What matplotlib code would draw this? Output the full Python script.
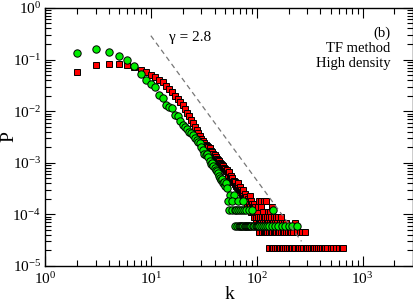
import matplotlib
matplotlib.use("Agg")
import matplotlib.pyplot as plt
from matplotlib.ticker import LogLocator, NullFormatter

plt.rcParams['font.family'] = ['Liberation Serif', 'DejaVu Serif']
plt.rcParams['mathtext.fontset'] = 'custom'
plt.rcParams['mathtext.rm'] = 'Liberation Serif'
plt.rcParams['mathtext.it'] = 'Liberation Serif:italic'

# red squares (k, P)
red_k = [2, 3, 4, 5, 6, 7, 8, 9, 10, 11, 12, 13, 14, 15, 16, 17, 18, 19, 20,
         21, 22, 23, 24, 25, 26, 27, 28, 29, 30, 31, 32, 33, 34, 35, 36, 37, 38,
         39, 40, 41, 42, 43, 44, 45, 46, 47, 48, 49, 50,
         51, 52, 53, 54, 55, 56, 57, 58, 59, 60, 61, 62, 63, 64, 65, 66, 67, 68,
         69, 70, 71, 72, 73, 74, 75, 76, 77, 78, 79, 80, 81, 82, 83, 84, 85, 86,
         87, 88, 89, 90, 91, 92, 93, 94, 95, 96, 97, 98, 99, 100,
         105, 110, 118, 123,
         102, 109, 114, 127, 134, 140,
         103, 108, 112, 117, 121, 126, 131, 137, 145, 152, 160, 168,
         104, 107, 111, 115, 119, 124, 128, 133, 139, 144, 150, 157, 165, 172, 180, 188, 228,
         106, 113, 116, 120, 122, 125, 130, 136, 141, 146, 149, 153, 158, 162, 170,
         176, 183, 191, 198, 205, 213, 222, 240, 255, 270, 284,
         132, 138, 143, 148, 155, 163, 167, 174, 178, 185, 193, 200, 210, 215,
         225, 232, 245, 252, 262, 275, 290, 300, 312, 325, 340, 350, 365, 380,
         395, 410, 430, 445, 460, 500, 530, 560, 600, 640, 660]
red_p = [0.058, 0.080, 0.083, 0.081, 0.078, 0.072, 0.063, 0.057, 0.050, 0.045,
         0.041, 0.036, 0.031, 0.027, 0.024, 0.020, 0.017, 0.015, 0.013,
         0.011, 0.0094, 0.0080, 0.0068, 0.0058, 0.0050, 0.0043, 0.0038, 0.0033,
         0.0029, 0.0026, 0.0024, 0.0022, 0.0021, 0.0020, 0.0019, 0.0017, 0.0016,
         0.0015, 0.0014, 0.0013, 0.0012, 0.00115, 0.0011, 0.00100, 0.00095,
         0.00090, 0.00085, 0.00080, 0.00075,
         0.00068, 0.00072, 0.00062, 0.00058, 0.00065, 0.00052, 0.00055, 0.00047,
         0.00050, 0.00042, 0.00045, 0.00038, 0.00043, 0.00036, 0.00034, 0.00040,
         0.00032, 0.00029, 0.00034, 0.00027, 0.00030, 0.00025, 0.00027, 0.00023,
         0.00029, 0.00021, 0.00025, 0.00020, 0.00018, 0.00022, 0.00016, 0.00020,
         0.00018, 0.00014, 0.00016, 0.00023, 0.00014, 0.00018, 0.00011, 0.00016,
         0.00014, 0.000113, 0.000136, 0.0000906, 0.000158, 0.000113, 0.000136,
         0.0000906, 0.000068, 0.000113,
         1.81e-4, 1.81e-4, 1.81e-4, 1.81e-4,
         1.36e-4, 1.36e-4, 1.13e-4, 1.13e-4, 1.13e-4, 1.36e-4,
         9.06e-5, 9.06e-5, 9.06e-5, 9.06e-5, 9.06e-5, 9.06e-5, 9.06e-5, 9.06e-5,
         9.06e-5, 9.06e-5, 9.06e-5, 9.06e-5,
         6.8e-5, 6.8e-5, 6.8e-5, 6.8e-5, 6.8e-5, 6.8e-5, 6.8e-5, 6.8e-5, 6.8e-5,
         6.8e-5, 6.8e-5, 6.8e-5, 6.8e-5, 6.8e-5, 6.8e-5, 6.8e-5, 6.8e-5,
         4.53e-5, 4.53e-5, 4.53e-5, 4.53e-5, 4.53e-5, 4.53e-5, 4.53e-5, 4.53e-5,
         4.53e-5, 4.53e-5, 4.53e-5, 4.53e-5, 4.53e-5, 4.53e-5, 4.53e-5, 4.53e-5,
         4.53e-5, 4.53e-5, 4.53e-5, 4.53e-5, 4.53e-5, 4.53e-5, 4.53e-5, 4.53e-5,
         4.53e-5, 4.53e-5,
         2.26e-5, 2.26e-5, 2.26e-5, 2.26e-5, 2.26e-5, 2.26e-5, 2.26e-5, 2.26e-5,
         2.26e-5, 2.26e-5, 2.26e-5, 2.26e-5, 2.26e-5, 2.26e-5, 2.26e-5, 2.26e-5,
         2.26e-5, 2.26e-5, 2.26e-5, 2.26e-5, 2.26e-5, 2.26e-5, 2.26e-5, 2.26e-5,
         2.26e-5, 2.26e-5, 2.26e-5, 2.26e-5, 2.26e-5, 2.26e-5, 2.26e-5, 2.26e-5,
         2.26e-5, 2.26e-5, 2.26e-5, 2.26e-5, 2.26e-5, 2.26e-5, 2.26e-5]

# green circles (k, P)
green_k = [2, 3, 4, 5, 6, 7, 8, 9, 10, 11,
           12, 13, 14, 15, 16, 17, 18, 19, 20, 21,
           22, 23, 24, 25, 26, 27, 28, 29, 30, 31,
           32, 33, 34, 35, 36, 37, 38, 39, 40, 41,
           42, 43, 44, 45, 46, 47, 48, 49, 50, 51,
           52,
           56, 61, 53, 59, 66, 75,
           55, 58, 62, 64, 67, 70, 72, 76, 80, 85, 90, 142,
           63, 65, 68, 69, 71, 73, 74, 77, 78, 79, 81, 83, 84, 87, 88, 92, 95,
           98, 100, 103, 106, 110, 114, 120, 126, 131, 138, 150, 160, 175, 185,
           200, 215, 240]
green_p = [0.134, 0.16, 0.14, 0.117, 0.096, 0.075, 0.052, 0.041, 0.034, 0.029,
           0.021, 0.0178, 0.0132, 0.0122, 0.0115, 0.0083, 0.0079, 0.0063, 0.0055, 0.0050,
           0.0046, 0.0040, 0.0038, 0.0034, 0.0030, 0.0027, 0.0025, 0.0024, 0.0020, 0.0018,
           0.0015, 0.0014, 0.0015, 0.0013, 0.0011, 0.00095, 0.0010, 0.00085, 0.00080, 0.00072,
           0.00068, 0.00063, 0.00055, 0.00050, 0.00046, 0.00048, 0.00040, 0.00042, 0.00036, 0.00040,
           0.00033,
           2.38e-4, 2.38e-4, 1.79e-4, 1.79e-4, 1.79e-4, 1.79e-4,
           1.19e-4, 1.19e-4, 1.19e-4, 1.19e-4, 1.19e-4, 1.19e-4, 1.19e-4,
           1.19e-4, 1.19e-4, 1.19e-4, 1.19e-4, 1.19e-4,
           5.96e-5, 5.96e-5, 5.96e-5, 5.96e-5, 5.96e-5, 5.96e-5, 5.96e-5,
           5.96e-5, 5.96e-5, 5.96e-5, 5.96e-5, 5.96e-5, 5.96e-5, 5.96e-5,
           5.96e-5, 5.96e-5, 5.96e-5,
           5.96e-5, 5.96e-5, 5.96e-5, 5.96e-5, 5.96e-5, 5.96e-5, 5.96e-5,
           5.96e-5, 5.96e-5, 5.96e-5, 5.96e-5, 5.96e-5, 5.96e-5, 5.96e-5,
           5.96e-5, 5.96e-5, 5.96e-5]

# power law guide, gamma = 2.8
line_k = [10, 265]
line_p = [0.29, 3.0e-5]

fig = plt.figure(figsize=(4.14, 3.05), dpi=100)
ax = fig.add_axes([0.1087, 0.128, 0.889, 0.846])

ax.plot(red_k, red_p, 's', ms=4.8, mfc='#ff0000', mec='black', mew=0.7, ls='none')
ax.plot(green_k, green_p, 'o', ms=5.3, mfc='#00ee00', mec='black', mew=0.7, ls='none')
ax.plot(line_k, line_p, ls=(0, (4, 3)), color='#777777', lw=0.9, zorder=5)

ax.set_xscale('log')
ax.set_yscale('log')
ax.set_xlim(1, 3000)
ax.set_ylim(1e-5, 1)

ax.xaxis.set_major_locator(LogLocator(base=10, numticks=10))
ax.yaxis.set_major_locator(LogLocator(base=10, numticks=10))
ax.xaxis.set_minor_locator(LogLocator(base=10, subs=range(2, 10), numticks=20))
ax.yaxis.set_minor_locator(LogLocator(base=10, subs=range(2, 10), numticks=20))
ax.xaxis.set_minor_formatter(NullFormatter())
ax.yaxis.set_minor_formatter(NullFormatter())

ax.tick_params(which='both', direction='in', top=True, right=True, labelsize=11)
ax.tick_params(which='major', length=7, width=0.8)
ax.tick_params(which='minor', length=4, width=0.8)
ax.tick_params(axis='x', pad=4)
ax.tick_params(axis='y', pad=3)
for s in ax.spines.values():
    s.set_linewidth(1.0)

ax.set_xlabel('k', fontsize=14, labelpad=-1)
ax.set_ylabel('P', fontsize=14)
ax.yaxis.set_label_coords(-0.075, 0.5)

ax.text(0.337, 0.885, 'γ = 2.8', transform=ax.transAxes, fontsize=11, va='center')
ax.text(0.939, 0.903, '(b)', transform=ax.transAxes, fontsize=10.5, ha='right', va='center')
ax.text(0.939, 0.841, 'TF method', transform=ax.transAxes, fontsize=10.5, ha='right', va='center')
ax.text(0.939, 0.783, 'High density', transform=ax.transAxes, fontsize=10.5, ha='right', va='center')

fig.savefig('out.png', dpi=100)
